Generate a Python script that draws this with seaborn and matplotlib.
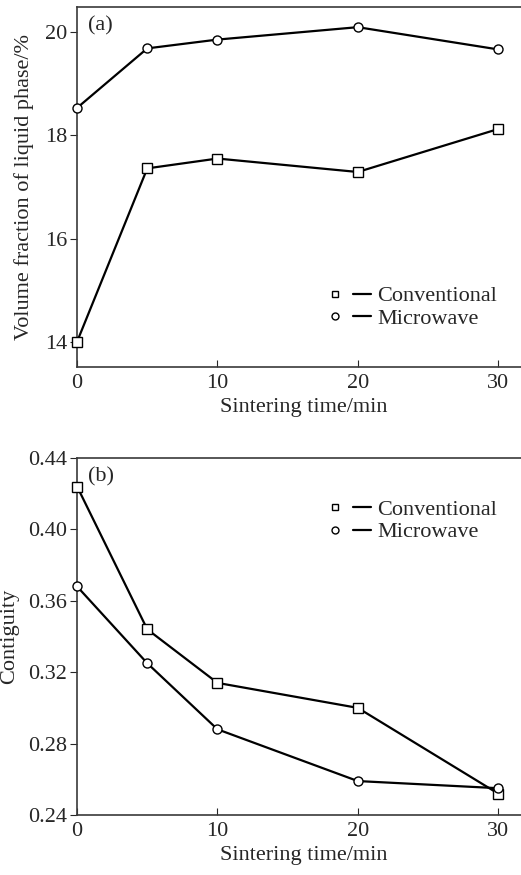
import matplotlib
matplotlib.use("Agg")
import matplotlib.pyplot as plt
import seaborn as sns
import pandas as pd
from matplotlib.lines import Line2D
from matplotlib.legend_handler import HandlerTuple

# sintering time (min)
times = [0, 5, 10, 20, 30]

# (a) volume fraction of liquid phase (%)
frac_conventional = [14.01, 17.36, 17.55, 17.29, 18.12]
frac_microwave = [18.53, 19.68, 19.85, 20.09, 19.66]

# (b) contiguity
cont_conventional = [0.424, 0.344, 0.314, 0.300, 0.252]
cont_microwave = [0.368, 0.325, 0.288, 0.259, 0.255]

series = ["Conventional", "Microwave"]
markers = {"Conventional": "s", "Microwave": "o"}

def long_df(conv, micro):
    return pd.DataFrame({
        "time": times * 2,
        "value": conv + micro,
        "method": ["Conventional"] * len(times) + ["Microwave"] * len(times),
    })

sns.set_style("ticks")
plt.rcParams["font.family"] = ["Liberation Serif", "DejaVu Serif"]
plt.rcParams["font.size"] = 16

fig = plt.figure(figsize=(5.21, 8.75), dpi=100)
ax1 = fig.add_axes([0.148, 0.5806, 0.87, 0.4114])
ax2 = fig.add_axes([0.148, 0.0686, 0.87, 0.408])

def draw(ax, df, ylim, yticks, yfmt, ylabel, ylpad, tag, leg_anchor):
    sns.lineplot(data=df, x="time", y="value", hue="method", style="method",
                 markers=markers, dashes=False, palette=["black", "black"],
                 linewidth=1.6, markersize=6.5, markerfacecolor="white",
                 markeredgecolor="black", markeredgewidth=1.0,
                 legend=False, ax=ax, clip_on=False, zorder=3)
    ax.set_xlim(0, 32.3)
    ax.set_ylim(*ylim)
    ax.set_xticks([0, 10, 20, 30])
    ax.set_yticks(yticks)
    ax.set_yticklabels([yfmt.format(v) for v in yticks])
    ax.tick_params(axis="x", direction="in", length=5, labelsize=16, pad=5)
    ax.tick_params(axis="y", direction="out", length=5, labelsize=16, pad=2)
    for s in ax.spines.values():
        s.set_color("#3a3a3a")
        s.set_linewidth(1.2)
    ax.spines["right"].set_visible(False)
    ax.set_xlabel("Sintering time/min", fontsize=16, labelpad=4)
    ax.set_ylabel(ylabel, fontsize=16, labelpad=ylpad)
    ax.text(0.025, 0.975, tag, transform=ax.transAxes, fontsize=16,
            ha="left", va="top")
    handles = []
    for name in series:
        m = Line2D([], [], marker=markers[name], linestyle="none",
                   markerfacecolor="white", markeredgecolor="black",
                   markersize=5, markeredgewidth=1.0)
        ln = Line2D([], [], color="black", linewidth=1.6)
        handles.append((m, ln))
    ax.legend(handles=handles, labels=series,
              handler_map={tuple: HandlerTuple(ndivide=None, pad=0.4)},
              loc="upper left", bbox_to_anchor=leg_anchor, frameon=False,
              fontsize=16, handlelength=2.0, handletextpad=0.3,
              labelspacing=0.1, borderaxespad=0)

draw(ax1, long_df(frac_conventional, frac_microwave), (13.52, 20.48),
     [14, 16, 18, 20], "{:.0f}", "Volume fraction of liquid phase/%", 8, "(a)",
     (0.53, 0.25))
draw(ax2, long_df(cont_conventional, cont_microwave), (0.24, 0.44),
     [0.24, 0.28, 0.32, 0.36, 0.40, 0.44], "{:.2f}", "Contiguity", 7, "(b)",
     (0.53, 0.91))

fig.savefig("out.png", dpi=100)
